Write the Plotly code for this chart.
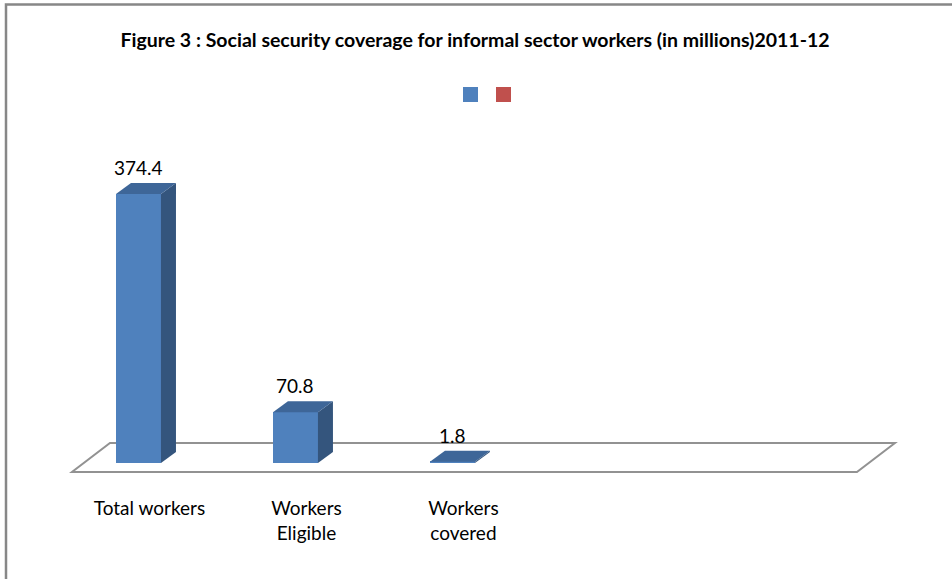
import plotly.graph_objects as go

# ---------------- data ----------------
categories = ["Total workers", "Workers<br>Eligible", "Workers<br>covered"]
values = [374.4, 70.8, 1.8]
value_labels = ["374.4", "70.8", "1.8"]
series_names = [" ", " "]
series_colors = ["#4F81BD", "#C0504D"]
title_text = "Figure 3 : Social security coverage for informal sector workers (in millions)2011-12"

# ---------------- layout constants ----------------
W, H = 952, 579
M_T, M_B = 110, 100
plot_h = H - M_T - M_B
x_range = [-0.882, 5.182]
y_range = [-22.27, 491.3]
px_x = W / (x_range[1] - x_range[0])
px_y = plot_h / (y_range[1] - y_range[0])


def paper_y(py):
    """pixel row (from top of figure) -> paper y (relative to plot area)"""
    return (H - M_B - py) / plot_h


bar_w = 45 / px_x
dep_x = 15 / px_x
dep_y = 11 / px_y
n_slots = 5
floor_left = -66.5 / px_x
floor_front = -9 / px_y
floor_dx = 38 / px_x
floor_dy = 29 / px_y

FRONT = "#4F81BD"
TOP = "#3E6698"
SIDE = "#34557D"
FONT = "Lato"

xs = list(range(len(categories)))
fig = go.Figure()

# front faces
fig.add_trace(go.Bar(x=xs, y=values, width=bar_w, marker=dict(color=FRONT, line=dict(width=0)),
                     showlegend=False, hoverinfo="skip"))

# side and top faces
for x, v in zip(xs, values):
    r = x + bar_w / 2
    l = x - bar_w / 2
    fig.add_trace(go.Scatter(x=[r, r + dep_x, r + dep_x, r, r], y=[0, dep_y, v + dep_y, v, 0],
                             mode="lines", fill="toself", fillcolor=SIDE, line=dict(width=0, color=SIDE),
                             showlegend=False, hoverinfo="skip"))
    fig.add_trace(go.Scatter(x=[l, l + dep_x, r + dep_x, r, l], y=[v, v + dep_y, v + dep_y, v, v],
                             mode="lines", fill="toself", fillcolor=TOP, line=dict(width=0, color=TOP),
                             showlegend=False, hoverinfo="skip"))

# legend entries (one legend box per series so they can sit close together)
legend_px = [463, 496]  # left edge of each legend swatch (px)
legend_keys = ["legend", "legend2"]
for name, col, key in zip(series_names, series_colors, legend_keys):
    fig.add_trace(go.Scatter(x=[None], y=[None], mode="markers", name=name, legend=key,
                             marker=dict(symbol="square", size=15, color=col), showlegend=True))

# floor
fx0 = floor_left
fx1 = floor_left + n_slots
floor_path = (f"M {fx0},{floor_front} L {fx1},{floor_front} L {fx1 + floor_dx},{floor_front + floor_dy} "
              f"L {fx0 + floor_dx},{floor_front + floor_dy} Z")
shapes = [dict(type="path", path=floor_path, xref="x", yref="y", layer="below",
               line=dict(color="#929292", width=2), fillcolor="white")]
# chart border
shapes.append(dict(type="rect", xref="paper", yref="paper", x0=6 / W, x1=1.05,
                   y0=paper_y(H + 20), y1=paper_y(4.5),
                   line=dict(color="#878787", width=2.5), fillcolor="rgba(0,0,0,0)", layer="above"))

annotations = []
for x, v, t in zip(xs, values, value_labels):
    annotations.append(dict(x=x, y=v, xref="x", yref="y", text=t, showarrow=False,
                            yanchor="bottom", yshift=13, font=dict(family=FONT, size=19, color="#000")))

legend_common = dict(orientation="h", xanchor="left", yanchor="middle", itemwidth=30,
                     font=dict(size=10), bgcolor="rgba(0,0,0,0)", y=paper_y(94.5))

fig.update_layout(
    width=W, height=H,
    margin=dict(l=0, r=0, t=M_T, b=M_B, pad=0),
    paper_bgcolor="white", plot_bgcolor="white",
    title=dict(text=f"<b>{title_text}</b>", x=475 / W, xanchor="center", y=1 - 40 / H, yanchor="middle",
               yref="container", font=dict(family=FONT, size=19.5, color="#000")),
    showlegend=True,
    legend=dict(legend_common, x=(legend_px[0] + 7.5 - 20) / W),
    legend2=dict(legend_common, x=(legend_px[1] + 7.5 - 20) / W),
    xaxis=dict(range=x_range, tickmode="array", tickvals=xs, ticktext=categories,
               showgrid=False, zeroline=False, showline=False, ticks="",
               ticklabelshift=11, ticklabelstandoff=16,
               tickfont=dict(family=FONT, size=19, color="#000"), fixedrange=True),
    yaxis=dict(range=y_range, showgrid=False, zeroline=False, showline=False, showticklabels=False,
               ticks="", fixedrange=True),
    shapes=shapes, annotations=annotations, bargap=0,
)

fig.write_html("out.html")
